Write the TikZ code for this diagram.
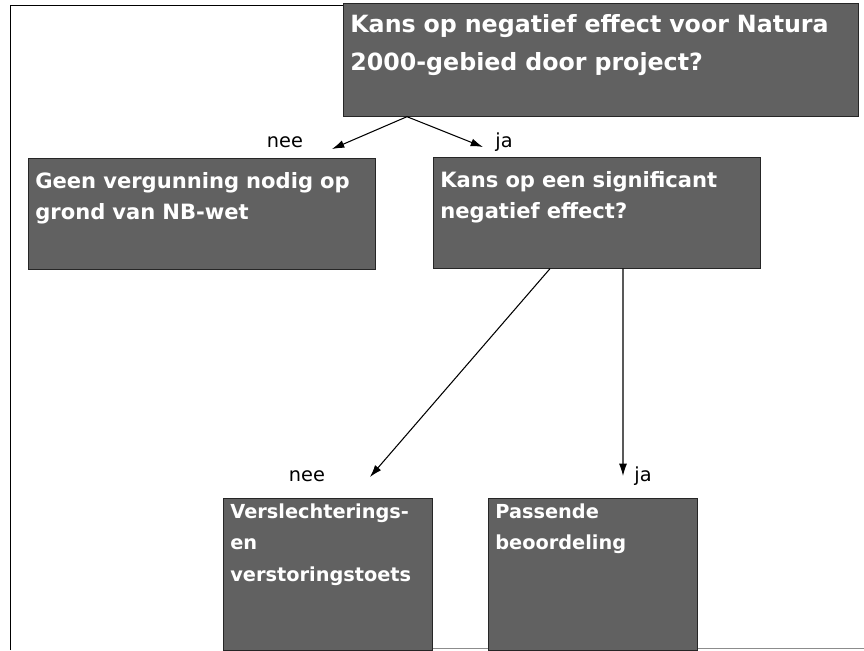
\documentclass[tikz,border=0pt]{standalone}
\usepackage{fontspec}
\setmainfont{DejaVu Sans}
\usetikzlibrary{arrows.meta}

\begin{document}
\begin{tikzpicture}[x=0.02cm, y=-0.02cm, >={Latex[length=7pt,width=4.5pt]},
  blok/.style={fill=black!62, draw=black!85, text=white, align=left, anchor=north west, inner xsep=0.14cm, inner ysep=0pt},
  lbl/.style={font=\fontsize{11}{13}\selectfont, anchor=base}]
\useasboundingbox (0,0) rectangle (864,650);
\draw (10,650)--(10,5)--(343,5);
\draw[black!45] (432,648)--(864,648);
\node[blok, text width=10.02cm, text height=0.58cm, text depth=1.68cm, font=\bfseries\fontsize{13.5}{21.5}\selectfont] (q1) at (343,3) {Kans op negatief effect voor Natura\\2000-gebied door project?};
\node[blok, text width=6.66cm, text height=0.6cm, text depth=1.62cm, font=\bfseries\fontsize{12}{17.6}\selectfont] (n1) at (28,158) {Geen vergunning nodig op\\grond van NB-wet};
\node[blok, text width=6.26cm, text height=0.6cm, text depth=1.62cm, font=\bfseries\fontsize{12}{17.6}\selectfont] (j1) at (433,157) {Kans op een significant\\negatief effect?};
\node[blok, text width=3.9cm, text height=0.4cm, text depth=2.64cm, font=\bfseries\fontsize{11}{18}\selectfont] (n2) at (223,498) {Verslechterings-\\en\\verstoringstoets};
\node[blok, text width=3.9cm, text height=0.4cm, text depth=2.64cm, font=\bfseries\fontsize{11}{18}\selectfont] (j2) at (488,498) {Passende\\beoordeling};
\coordinate (nee1) at (332,149);
\coordinate (ja1) at (483,147);
\coordinate (nee2) at (370,477);
\coordinate (ja2) at (623,476);
\draw[->, line width=0.6pt] ([xshift=1.28cm]q1.south west)--(nee1);
\draw[->, line width=0.6pt] ([xshift=1.28cm]q1.south west)--(ja1);
\draw[->, line width=0.6pt] ([xshift=2.34cm]j1.south west)--(nee2);
\draw[->, line width=0.6pt] ([xshift=3.8cm]j1.south west)--(ja2);
\node[lbl] (l1) at (285,147){nee};
\node[lbl] (l2) at (504,147){ja};
\node[lbl] (l3) at (307,481){nee};
\node[lbl] (l4) at (643,481){ja};
\end{tikzpicture}
\end{document}
